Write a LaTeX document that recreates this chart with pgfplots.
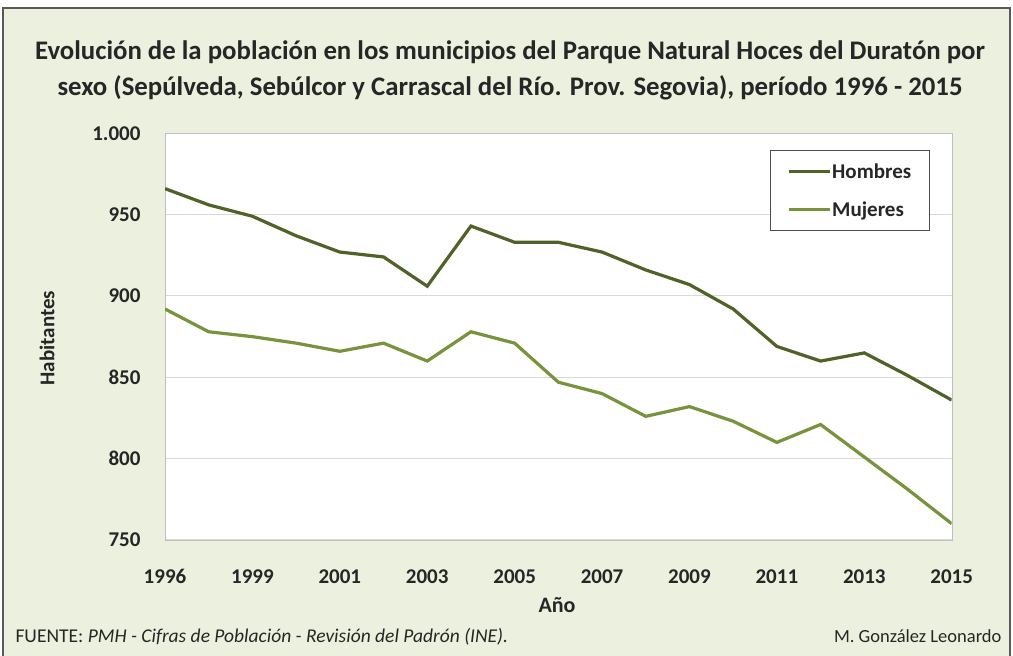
\documentclass[border=0pt]{standalone}
\usepackage{fontspec}
\setmainfont{Carlito}
\usepackage{pgfplots}
\pgfplotsset{compat=1.18}
\definecolor{bgc}{HTML}{EBF1DE}
\definecolor{hom}{HTML}{4F6228}
\definecolor{muj}{HTML}{77933C}
\definecolor{gridc}{HTML}{D9D9D9}
\definecolor{txt}{HTML}{262626}
\begin{document}
\begin{tikzpicture}[x=1pt,y=1pt]
\useasboundingbox (0,0) rectangle (1013,656);
\fill[white] (0,0) rectangle (1013,656);
\filldraw[fill=bgc, draw=black!65, line width=1.5pt] (3,-5) rectangle (1010,648);
\node[font=\fontsize{26.8}{36}\selectfont\bfseries, align=center, text=txt] at (510,586)
  {Evolución de la población en los municipios del Parque Natural Hoces del Duratón por\\
   sexo (Sepúlveda, Sebúlcor y Carrascal del Río. Prov. Segovia), período 1996 - 2015};
\node[font=\fontsize{21}{21}\selectfont\bfseries, rotate=90, text=txt] at (47,318) {Habitantes};
\node[font=\fontsize{22}{22}\selectfont\bfseries, text=txt] at (557,51) {Año};
\node[anchor=base west, font=\fontsize{19.5}{19.5}\selectfont, text=txt] at (12,13)
  {FUENTE: \textit{PMH - Cifras de Población - Revisión del Padrón (INE).}};
\node[anchor=base east, font=\fontsize{18.5}{18.5}\selectfont, text=txt] at (1005,13)
  {M. González Leonardo};
\begin{axis}[
  at={(165pt,116pt)}, anchor=south west,
  scale only axis, width=786.7pt, height=406.7pt,
  xmin=0, xmax=18, ymin=750, ymax=1000,
  axis background/.style={fill=white},
  axis line style={draw=black!25},
  xtick={0,2,...,18},
  xticklabels={1996,1999,2001,2003,2005,2007,2009,2011,2013,2015},
  ytick={750,800,850,900,950,1000},
  yticklabels={750,800,850,900,950,1.000},
  major tick length=0pt,
  ymajorgrids, grid style={draw=gridc, line width=1pt},
  tick label style={font=\fontsize{21}{21}\selectfont\bfseries, text=txt},
  xticklabel style={yshift=-26pt},
  yticklabel style={xshift=-21pt},
  legend style={at={(0.972,0.959)}, anchor=north east, draw=black!70, line width=0.8pt,
    fill=white, font=\fontsize{21}{21}\selectfont\bfseries, text=txt,
    inner xsep=17pt, inner ysep=12pt, row sep=20pt,
    nodes={inner sep=1pt}},
  legend cell align=left,
  legend image code/.code={\draw[#1, line width=3pt] (0pt,0pt) -- (41pt,0pt);},
]
\addplot[hom, line width=3.2pt] coordinates {
(0,966) (1,956) (2,949) (3,937) (4,927) (5,924) (6,906) (7,943) (8,933) (9,933)
(10,927) (11,916) (12,907) (13,892) (14,869) (15,860) (16,865) (17,851) (18,836)};
\addlegendentry{Hombres}
\addplot[muj, line width=3.2pt] coordinates {
(0,892) (1,878) (2,875) (3,871) (4,866) (5,871) (6,860) (7,878) (8,871) (9,847)
(10,840) (11,826) (12,832) (13,823) (14,810) (15,821) (16,801) (17,781) (18,760)};
\addlegendentry{Mujeres}
\end{axis}
\end{tikzpicture}
\end{document}
